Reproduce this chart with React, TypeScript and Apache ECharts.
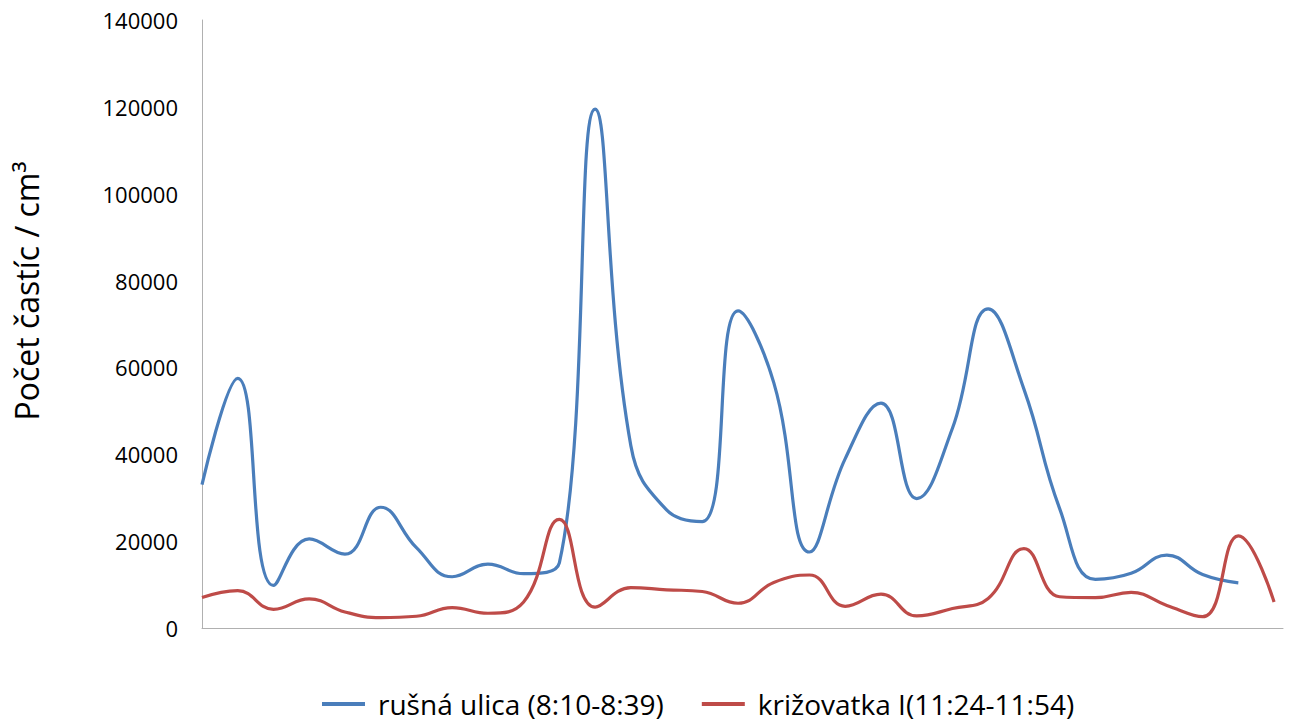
import React, { useEffect, useRef } from "react";
import * as echarts from "echarts";

// 31 measurement samples (index along the time axis)
const sampleIndex: number[] = Array.from({ length: 31 }, (_, i) => i);

const busyStreet: (number | null)[] = [
  33000, 57500, 9800, 20500, 17000, 27800, 18500, 11800, 14700, 12500,
  15000, 119500, 42000, 27200, 24500, 73000, 56500, 17500, 39000, 51800,
  29800, 46000, 73500, 55000, 27500, 11200, 12600, 16800, 12300, 10400, null,
];

const crossroad: number[] = [
  7000, 8600, 4300, 6700, 3700, 2400, 2700, 4700, 3400, 6000,
  25000, 4800, 9300, 8800, 8400, 5700, 10500, 12200, 5000, 7800,
  2800, 4500, 6800, 18300, 7200, 7000, 8200, 5200, 2600, 21200, 6000,
];

const seriesNames = ["rušná ulica (8:10-8:39)", "križovatka I(11:24-11:54)"];
const yTicks = { min: 0, max: 140000, interval: 20000 };
const yTitle = "Počet častíc / cm³";

export default function App() {
  const ref = useRef<HTMLDivElement>(null);
  useEffect(() => {
    if (!ref.current) return;
    const chart = echarts.init(ref.current, undefined, { renderer: "svg" });
    const font = "'Open Sans', sans-serif";
    const pair = (arr: (number | null)[]) => sampleIndex.map((x, i) => [x, arr[i]]);
    chart.setOption({
      animation: false,
      backgroundColor: "#ffffff",
      grid: { left: 202, right: 12, top: 20, bottom: 96, containLabel: false },
      xAxis: {
        type: "value",
        min: 0,
        max: 30.25,
        axisLine: { show: true, lineStyle: { color: "#b0b0b0", width: 1 } },
        axisTick: { show: false },
        axisLabel: { show: false },
        splitLine: { show: false },
      },
      yAxis: {
        type: "value",
        min: yTicks.min,
        max: yTicks.max,
        interval: yTicks.interval,
        name: yTitle,
        nameLocation: "middle",
        nameGap: 160,
        nameRotate: 90,
        nameTextStyle: { fontFamily: font, fontSize: 32, color: "#000", padding: [0, 0, 0, 66] },
        axisLine: { show: true, lineStyle: { color: "#b0b0b0", width: 1 } },
        axisTick: { show: false },
        splitLine: { show: false },
        axisLabel: {
          fontFamily: font,
          fontSize: 22,
          color: "#000",
          margin: 24,
          formatter: (v: number) => String(v),
        },
      },
      legend: {
        top: 690,
        left: 322,
        padding: 0,
        icon: "rect",
        itemWidth: 43,
        itemHeight: 4,
        itemGap: 38,
        textStyle: { fontFamily: font, fontSize: 28, lineHeight: 28, color: "#000", padding: [0, 0, 0, 8] },
        data: seriesNames,
      },
      series: [
        {
          name: seriesNames[0],
          type: "line",
          data: pair(busyStreet),
          smooth: 0.45,
          symbol: "none",
          connectNulls: false,
          lineStyle: { color: "#4a7ebb", width: 3.2 },
          itemStyle: { color: "#4a7ebb" },
        },
        {
          name: seriesNames[1],
          type: "line",
          data: pair(crossroad),
          smooth: 0.45,
          symbol: "none",
          lineStyle: { color: "#be4b48", width: 3.2 },
          itemStyle: { color: "#be4b48" },
        },
      ],
    });
    return () => chart.dispose();
  }, []);
  return (
    <div
      ref={ref}
      style={{ position: "fixed", left: 0, top: 0, width: 1295, height: 724 }}
    />
  );
}
